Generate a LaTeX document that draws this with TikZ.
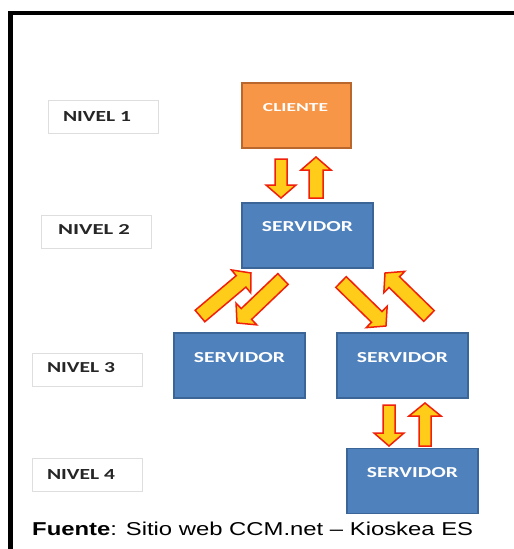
\documentclass[tikz,border=0pt]{standalone}
\usepackage{fontspec}
\setmainfont{Liberation Sans}
\newfontfamily\carlito{Carlito}
\usetikzlibrary{calc}
\definecolor{boxblue}{HTML}{4F81BD}
\definecolor{boxblueedge}{HTML}{3A6596}
\definecolor{boxorange}{HTML}{F79646}
\definecolor{boxorangeedge}{HTML}{B9672C}
\definecolor{arrowred}{HTML}{F0200A}
\definecolor{arrowfill}{HTML}{FFCC1A}
\newcommand\fitt[3]{\resizebox{#1pt}{#2pt}{\carlito\bfseries #3}}
\newcommand\barrow[7]{%
  \pgfmathsetmacro\bang{atan2(-(#4-#2),#3-#1)}%
  \pgfmathsetmacro\blen{veclen(#3-#1,#4-#2)}%
  \pgfmathsetmacro\bneck{\blen-#7}%
  \begin{scope}[shift={(#1,#2)},rotate=\bang]
    \draw[blockarrow] (0pt,-#5pt) -- (\bneck pt,-#5pt) -- (\bneck pt,-#6pt)
      -- (\blen pt,0pt) -- (\bneck pt,#6pt) -- (\bneck pt,#5pt) -- (0pt,#5pt) -- cycle;
  \end{scope}}
\tikzset{
  blockarrow/.style={draw=arrowred, line width=1.5pt, line join=miter, fill=arrowfill},
  lvlbox/.style={draw=black!13, line width=0.8pt, fill=white, minimum width=110pt, minimum height=33pt, inner sep=0pt},
  lvltxt/.style={text=black!85, inner sep=0pt},
  srvbox/.style={draw=boxblueedge, line width=1.2pt, fill=boxblue, minimum width=131pt, minimum height=65pt, inner sep=0pt},
  clibox/.style={draw=boxorangeedge, line width=1.2pt, fill=boxorange, minimum width=109pt, minimum height=65pt, inner sep=0pt},
  boxtxt/.style={text=white, inner sep=0pt},
}
\begin{document}
\begin{tikzpicture}[x=1pt,y=-1pt]
\useasboundingbox (0,0) rectangle (514,549);
\fill[white] (0,0) rectangle (514,549);
% frame
\draw[line width=4.5pt] (10.5,560) -- (10.5,13) -- (530,13);

% level labels
\node[lvlbox] (l1) at (103,116.5) {};
\node[lvltxt] (l1t) at (97,116.5) {\fitt{68}{10}{NIVEL 1}};
\node[lvlbox] (l2) at (96,231.5) {};
\node[lvltxt] (l2t) at (94,229) {\fitt{72}{10}{NIVEL 2}};
\node[lvlbox] (l3) at (87,370) {};
\node[lvltxt] (l3t) at (81,368) {\fitt{68}{10}{NIVEL 3}};
\node[lvlbox] (l4) at (87,475) {};
\node[lvltxt] (l4t) at (81,474) {\fitt{68}{10}{NIVEL 4}};

% boxes
\node[clibox] (cli) at (296.5,115.5) {};
\node[boxtxt] (clit) at (295.5,108) {\fitt{65}{8}{CLIENTE}};
\node[srvbox] (s2) at (307.5,235.5) {};
\node[boxtxt] (s2t) at (307.5,227) {\fitt{91}{10}{SERVIDOR}};
\node[srvbox] (s3a) at (239.5,365.5) {};
\node[boxtxt] (s3at) at (239.5,358) {\fitt{91}{10}{SERVIDOR}};
\node[srvbox] (s3b) at (402.5,365.5) {};
\node[boxtxt] (s3bt) at (402.5,358) {\fitt{91}{10}{SERVIDOR}};
\node[srvbox] (s4) at (412.5,481) {};
\node[boxtxt] (s4t) at (412.5,473) {\fitt{91}{10}{SERVIDOR}};

% block arrows
\barrow{281}{159}{281}{198}{6}{15}{13}
\barrow{316}{198}{316}{157}{7}{15}{13}
\barrow{200}{316}{251}{273}{7.5}{15}{13}
\barrow{283}{279}{237}{323}{7.5}{15}{13}
\barrow{341}{282}{386}{326}{7.5}{15}{13}
\barrow{429}{316}{385}{273}{7.5}{15}{13}
\barrow{389}{405}{389}{446}{6}{15}{13}
\barrow{425}{446}{425}{403}{6}{16}{13}

% source
\node[anchor=base west, inner sep=0pt] (src) at (32,535)
  {\resizebox{441pt}{13.5pt}{\fontsize{18}{20}\selectfont\textbf{Fuente}: Sitio web CCM.net – Kioskea ES}};
\end{tikzpicture}
\end{document}
